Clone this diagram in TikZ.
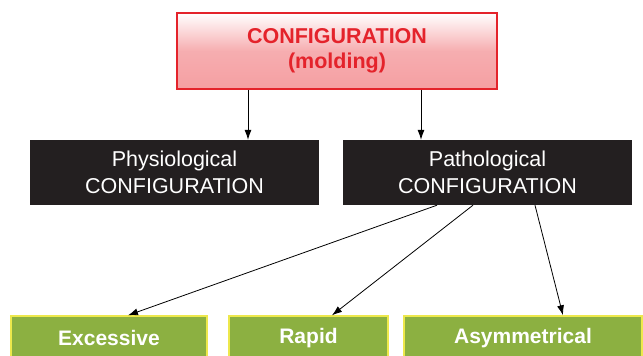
\documentclass[tikz,border=0pt]{standalone}
\usepackage{fontspec}
\setmainfont{Liberation Sans}
\usetikzlibrary{arrows.meta}

\definecolor{cfgred}{HTML}{E4232B}
\definecolor{cfgpink}{HTML}{F59FA2}
\definecolor{cfgblack}{HTML}{231F20}
\definecolor{cfggreen}{HTML}{8CB041}
\definecolor{cfgyellow}{HTML}{EDE84C}

\tikzset{
  topbox/.style={draw=cfgred, line width=1.6pt, top color=white, bottom color=cfgpink,
    middle color=cfgpink!85, shading angle=0, minimum width=320, minimum height=76,
    inner sep=0pt, text=cfgred, align=center, font=\bfseries\fontsize{21.5}{25}\selectfont},
  kindbox/.style={fill=cfgblack, minimum width=289, minimum height=65, inner sep=0pt,
    text=white, align=center, font=\fontsize{21.5}{26.5}\selectfont},
  leafbox/.style={fill=cfggreen, draw=cfgyellow, line width=1.4pt, minimum height=44,
    inner sep=0pt, text=white, font=\bfseries\fontsize{21}{23}\selectfont},
  arr/.style={line width=0.8pt, -{Latex[length=10pt,width=7pt]}}
}

\begin{document}
\begin{tikzpicture}[x=1pt,y=-1pt]
\useasboundingbox (0,0) rectangle (643,356);
\clip (0,0) rectangle (643,356);

\node[topbox] (config) at (337,51) {CONFIGURATION\\(molding)};

\node[kindbox] (phys) at (174.5,172.5) {Physiological\\CONFIGURATION};
\node[kindbox] (path) at (487.5,172.5) {Pathological\\CONFIGURATION};

\node[leafbox, minimum width=196] (exc) at (109,338) {Excessive};
\node[leafbox, minimum width=159] (rapid) at (308.5,338) {Rapid};
\node[leafbox, minimum width=238] (asym) at (523,338) {Asymmetrical};

% config to kinds
\draw[arr] ([xshift=-89]config.south) -- ([xshift=-89]config.south |- phys.north);
\draw[arr] ([xshift=84]config.south) -- ([xshift=84]config.south |- path.north);

% pathological to leaves
\draw[arr] ([xshift=-50.5]path.south) -- ([xshift=19]exc.north);
\draw[arr] ([xshift=-14.5]path.south) -- ([xshift=23.5]rapid.north);
\draw[arr] ([xshift=47.5]path.south) -- ([xshift=40]asym.north);
\end{tikzpicture}
\end{document}
